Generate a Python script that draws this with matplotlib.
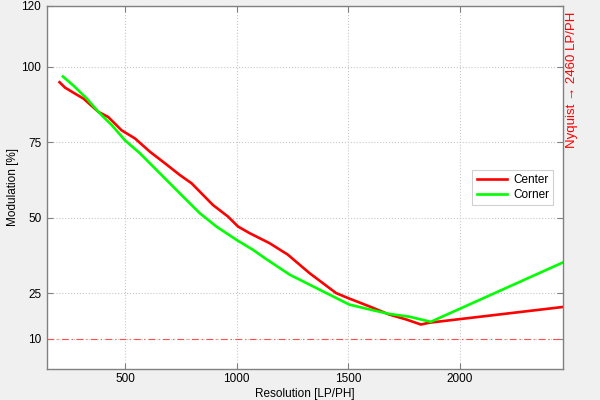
import matplotlib.pyplot as plt

plt.rcParams['font.family'] = ['Liberation Sans', 'DejaVu Sans']

center_x = [207, 232, 277, 314, 381, 425, 485, 545, 612, 679, 746, 798, 842,
            894, 961, 1006, 1058, 1147, 1229, 1326, 1445, 1497, 1594, 1683,
            1758, 1825, 1862, 2460]
center_y = [94.8, 93.0, 91.0, 89.4, 85.0, 83.3, 78.9, 76.2, 71.8, 68.0, 64.1,
            61.4, 58.1, 54.2, 50.4, 47.1, 44.9, 41.6, 37.8, 31.7, 25.1, 23.5,
            20.7, 18.0, 16.4, 14.7, 15.3, 20.5]

corner_x = [222, 269, 329, 381, 441, 500, 567, 679, 760, 835, 909, 999, 1073,
            1125, 1237, 1326, 1415, 1504, 1594, 1683, 1772, 1869, 2460]
corner_y = [96.7, 93.7, 89.4, 85.0, 80.6, 75.6, 71.3, 63.0, 57.0, 51.5, 47.1,
            42.7, 39.4, 36.7, 31.2, 27.9, 24.6, 21.3, 19.7, 18.2, 17.3, 15.6,
            35.2]

nyquist = 2460
threshold = 10
x_ticks = [500, 1000, 1500, 2000]
y_ticks = [10, 25, 50, 75, 100, 120]

fig = plt.figure(figsize=(6, 4), dpi=100, facecolor='#f0f0f0')
ax = fig.add_axes([0.078, 0.0775, 0.86, 0.9075])
ax.set_facecolor('white')

ax.plot(center_x, center_y, color='#ff0000', lw=1.9, label='Center')
ax.plot(corner_x, corner_y, color='#00ff00', lw=1.9, label='Corner')
ax.axhline(threshold, color='#ff5050', lw=0.8, ls=(0, (6, 3, 1, 3)))

ax.set_xlim(150, nyquist)
ax.set_ylim(0, 120)
ax.set_xticks(x_ticks)
ax.set_yticks(y_ticks)
ax.grid(True, color='#c8c8c8', ls=':', lw=0.8)

ax.tick_params(direction='in', top=True, right=True, length=4,
               color='#808080', labelsize=8.5, pad=4)
ax.tick_params(axis='x', pad=3)
for s in ax.spines.values():
    s.set_color('#808080')
    s.set_linewidth(1.0)

ax.set_xlabel('Resolution [LP/PH]', fontsize=8.5)
ax.xaxis.set_label_coords(0.5, -0.052)
ax.set_ylabel('Modulation [%]', fontsize=8.5, labelpad=2)

fig.text(0.953, 0.80, 'Nyquist \u2192 %d LP/PH' % nyquist, color='#ff0000',
         rotation=90, fontsize=9.5, ha='center', va='center')

leg = ax.legend(loc='center right', bbox_to_anchor=(0.993, 0.50), fontsize=8.5,
                fancybox=False, framealpha=1, edgecolor='#d0d0d0',
                handlelength=2.6, handletextpad=0.5, borderpad=0.35,
                labelspacing=0.25)
leg.get_frame().set_linewidth(0.8)

fig.savefig('out.png', dpi=100, facecolor=fig.get_facecolor())
